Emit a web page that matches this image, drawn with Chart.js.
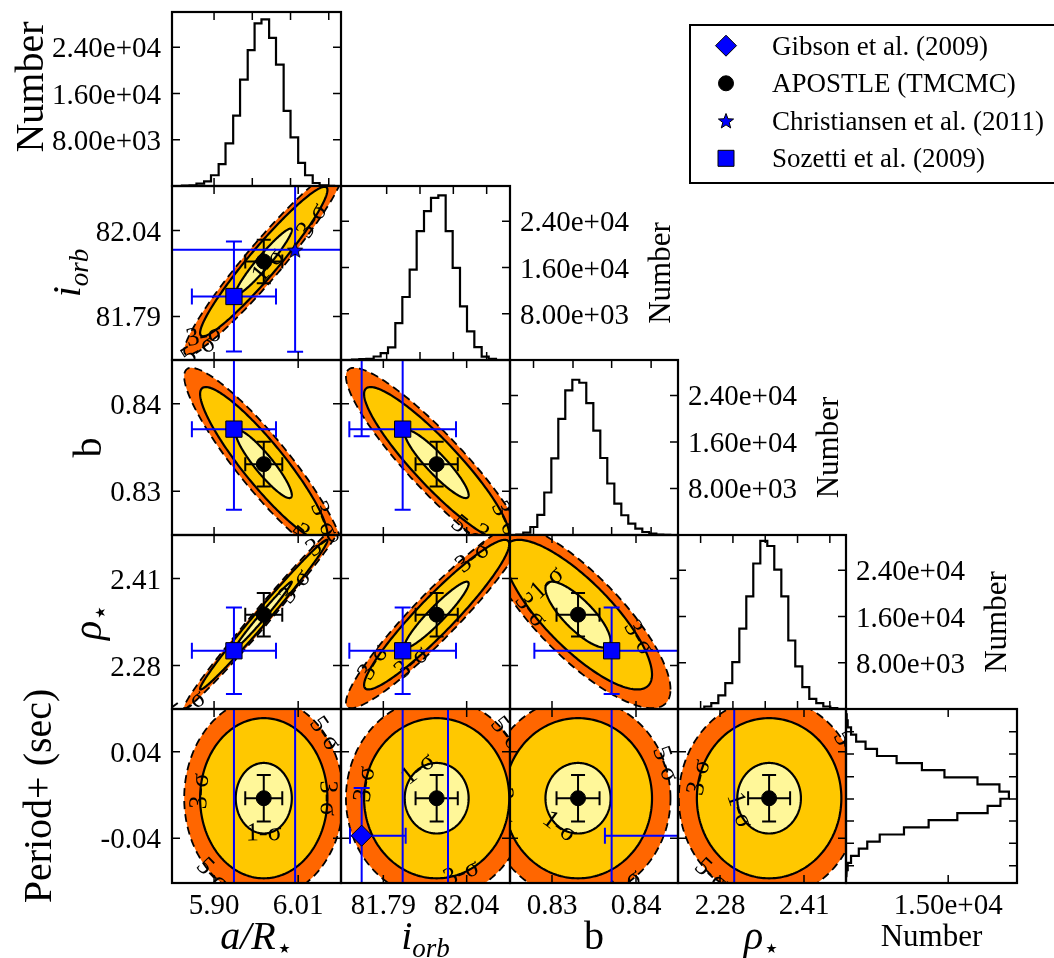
<!DOCTYPE html>
<html>
<head>
<meta charset="utf-8">
<script src="https://cdn.jsdelivr.net/npm/chart.js@4.4.0/dist/chart.umd.min.js"></script>
<style>
  html, body { margin: 0; padding: 0; background: #fff; }
  #wrap { position: relative; width: 1054px; height: 958px; overflow: hidden; background: #fff; }
  #wrap canvas { position: absolute; left: 0; top: 0; }
</style>
</head>
<body>
<div id="wrap"></div>
<script>
// ---------------- values ----------------
// parameter order: a/R*, i_orb, b, rho*, Period+ (sec)
const axisMin = [5.845, 81.663, 0.8250, 2.215, -0.0813];
const axisMax = [6.066, 82.170, 0.8450, 2.475, 0.0794];
const labelTicks = [[5.90, 6.01], [81.79, 82.04], [0.83, 0.84], [2.28, 2.41], [-0.04, 0.04]];
const histTicks = [[5.90, 5.95, 6.00, 6.05], [81.80, 81.90, 82.00, 82.10], [0.8278, 0.8325, 0.8371, 0.8418], [2.25, 2.30, 2.35, 2.40, 2.45]];
const countTicks = [8000, 16000, 24000];
const countMax = 30100;
const periodCountTicks = [15000];
const periodCountMax = 25100;
const periodHistTicks = [0.0584, 0.0378, 0.0169, -0.0037, -0.0240, -0.0446, -0.0653];

// histograms (bin edges, counts)
const aEdges = [5.849, 5.858, 5.868, 5.877, 5.887, 5.896, 5.906, 5.915, 5.925, 5.934, 5.944, 5.953, 5.962, 5.972, 5.981, 5.991, 6.000, 6.010, 6.019, 6.029, 6.038, 6.048, 6.057];
const aCounts = [0, 50, 120, 400, 800, 1860, 3770, 7370, 12180, 18390, 23490, 28130, 28830, 25640, 21000, 12990, 8410, 4000, 1860, 520, 120, 30];
const iEdges = [81.696, 81.718, 81.739, 81.761, 81.782, 81.804, 81.826, 81.847, 81.869, 81.890, 81.912, 81.933, 81.955, 81.977, 81.998, 82.020, 82.041, 82.063, 82.085, 82.106, 82.128];
const iCounts = [80, 150, 200, 607, 1190, 2170, 6390, 10900, 15640, 22280, 25750, 28060, 28470, 22280, 15930, 9280, 4940, 2230, 600, 200];
const bEdges = [0.82575, 0.82658, 0.82742, 0.82825, 0.82908, 0.82992, 0.83075, 0.83158, 0.83242, 0.83325, 0.83408, 0.83492, 0.83575, 0.83658, 0.83742, 0.83825, 0.83908, 0.83992, 0.84075, 0.84158, 0.84242, 0.84325, 0.84408];
const bCounts = [80, 400, 1380, 3450, 7310, 13180, 19970, 24860, 26700, 26190, 22680, 17960, 13240, 8860, 5410, 3400, 1960, 1090, 520, 230, 80, 30];
const rhoEdges = [2.2557, 2.2665, 2.2774, 2.2882, 2.2990, 2.3099, 2.3207, 2.3315, 2.3424, 2.3532, 2.3640, 2.3749, 2.3857, 2.3965, 2.4074, 2.4182, 2.4290, 2.4399, 2.4507, 2.4615];
const rhoCounts = [430, 1010, 2340, 4480, 8120, 13900, 19500, 25170, 29100, 28200, 24100, 19500, 11850, 7360, 3780, 1760, 1010, 430, 145];
const periodEdges = [0.0755, 0.0690, 0.0624, 0.0558, 0.0492, 0.0426, 0.0360, 0.0294, 0.0229, 0.0163, 0.0097, 0.0031, -0.0035, -0.0101, -0.0167, -0.0233, -0.0299, -0.0365, -0.0431, -0.0496, -0.0562, -0.0628, -0.0694, -0.0760];
const periodCounts = [100, 250, 740, 1490, 2870, 4550, 7430, 11140, 14450, 19300, 22520, 23910, 22670, 20790, 16340, 12130, 8510, 4950, 3120, 1880, 740, 250, 100];

// APOSTLE (TMCMC) posterior: mean and 1-sigma, plus pair correlations [row, col, rho]
const apostleMean = [5.965, 81.950, 0.8331, 2.356, -0.003];
const apostleSigma = [0.0242, 0.0633, 0.00256, 0.0325, 0.0215];
const pairCorr = [[1, 0, 0.955], [2, 0, -0.91], [2, 1, -0.91], [3, 0, 0.99], [3, 1, 0.94], [3, 2, -0.80], [4, 0, 0.0], [4, 1, 0.0], [4, 2, 0.0], [4, 3, 0.0]];
const contourNames = ['1-σ', '3-σ', '5-σ'];
const contourRadius = [1.515, 3.44, 4.3];

// literature values (null = not reported)
const gibsonValue = [null, 81.725, 0.8485, null, -0.0376];
const gibsonErrLow = [null, 0.035, 0.0122, null, 0.0441];
const gibsonErrHigh = [null, 0.132, 0.0122, null, 0.0441];
const christiansenValue = [6.006, 81.984, null, null, 0.12];
const christiansenErr = [0.2, 0.297, null, null, 0.25];
const sozettiValue = [5.926, 81.848, 0.8371, 2.302, 0.12];
const sozettiErr = [0.055, 0.16, 0.0092, 0.0646, 0.25];

// ---------------- layout ----------------
const W = 1054, H = 958;
const colX = [172, 341, 510, 678, 846, 1017];
const rowY = [12, 186, 360, 535, 709, 883];
const FONT = '"Liberation Serif", "Times New Roman", serif';
const leftTitleX = [30, 67, 88, 88, 38];
const leftTitleShift = [-12, 0, 0, 0, 0];

// contour label spots per panel: [level index, angle on ellipse (deg)]
const labelSpots = {
  '1,0': [[1, 200], [1, 320], [2, 215], [0, 280]],
  '2,0': [[1, 320], [2, 300], [1, 20]],
  '2,1': [[1, 320], [2, 290], [1, 20]],
  '3,0': [[1, 20], [1, 300], [2, 200]],
  '3,1': [[1, 60], [1, 250], [1, 150]],
  '3,2': [[0, 160], [1, 35], [1, 230]],
  '4,0': [[0, 270], [1, 175], [1, 0], [2, 230], [2, 40]],
  '4,1': [[0, 125], [1, 170], [1, 290], [2, 40]],
  '4,2': [[0, 235], [1, 185], [2, 20], [2, 300]],
  '4,3': [[0, 200], [1, 165], [2, 30], [2, 230]]
};

const titleParts = [
  [{t: 'a/R', it: 1}, {t: '⋆', sub: 1}],
  [{t: 'i', it: 1}, {t: 'orb', it: 1, sub: 1}],
  [{t: 'b'}],
  [{t: 'ρ', it: 1}, {t: '⋆', sub: 1}],
  [{t: 'Period+ (sec)'}]
];

function fmtExp(v) { return v.toExponential(2).replace(/e([+-])(\d)$/, 'e$10$2'); }

function starPath(ctx, x, y, R) {
  ctx.beginPath();
  for (let i = 0; i < 10; i++) {
    const r = i % 2 ? R * 0.42 : R;
    const a = -Math.PI / 2 + i * Math.PI / 5;
    ctx[i ? 'lineTo' : 'moveTo'](x + r * Math.cos(a), y + r * Math.sin(a));
  }
  ctx.closePath();
}

const starImg = document.createElement('canvas');
starImg.width = 18; starImg.height = 18;
(function () {
  const c = starImg.getContext('2d');
  starPath(c, 9, 9.8, 8);
  c.fillStyle = '#0000ff'; c.fill();
  c.lineWidth = 1; c.strokeStyle = '#000'; c.stroke();
})();

const series = [
  {name: 'Gibson et al. (2009)', vals: gibsonValue, lo: gibsonErrLow, hi: gibsonErrHigh, color: '#0000ff', style: 'rectRot', radius: 10.5},
  {name: 'APOSTLE (TMCMC)', vals: apostleMean, lo: apostleSigma, hi: apostleSigma, color: '#000000', style: 'circle', radius: 7.5},
  {name: 'Christiansen et al. (2011)', vals: christiansenValue, lo: christiansenErr, hi: christiansenErr, color: '#0000ff', style: starImg, radius: 7},
  {name: 'Sozetti et al. (2009)', vals: sozettiValue, lo: sozettiErr, hi: sozettiErr, color: '#0000ff', style: 'rect', radius: 11.5}
];

function corrOf(r, c) {
  const p = pairCorr.find(q => q[0] === r && q[1] === c);
  return p ? p[2] : 0;
}

function drawRich(ctx, parts, cx, cy, size, rot) {
  ctx.save();
  ctx.translate(cx, cy);
  if (rot) ctx.rotate(rot);
  const fontOf = p => (p.it ? 'italic ' : '') + Math.round(p.sub ? size * 0.68 : size) + 'px ' + FONT;
  let total = 0;
  parts.forEach(p => { ctx.font = fontOf(p); total += ctx.measureText(p.t).width; });
  let x = -total / 2;
  ctx.textAlign = 'left'; ctx.textBaseline = 'alphabetic'; ctx.fillStyle = '#000';
  parts.forEach(p => {
    ctx.font = fontOf(p);
    ctx.fillText(p.t, x, size * 0.33 + (p.sub ? size * 0.2 : 0));
    x += ctx.measureText(p.t).width;
  });
  ctx.restore();
}

function stepPoints(edges, counts, horizontal) {
  const n = edges.length - 1;
  const pts = [horizontal ? {x: 0, y: edges[0]} : {x: edges[0], y: 0}];
  counts.forEach((v, i) => {
    if (horizontal) pts.push({x: v, y: edges[i]}, {x: v, y: edges[i + 1]});
    else pts.push({x: edges[i], y: v}, {x: edges[i + 1], y: v});
  });
  pts.push(horizontal ? {x: 0, y: edges[n]} : {x: edges[n], y: 0});
  return pts;
}

function ellipsePt(chart, xi, yi, rho, r, t) {
  const k = Math.sqrt(1 - rho * rho);
  return [
    chart.scales.x.getPixelForValue(apostleMean[xi] + r * apostleSigma[xi] * Math.cos(t)),
    chart.scales.y.getPixelForValue(apostleMean[yi] + r * apostleSigma[yi] * (rho * Math.cos(t) + k * Math.sin(t)))
  ];
}

function ellipsePath(ctx, chart, xi, yi, rho, r) {
  ctx.beginPath();
  for (let i = 0; i <= 240; i++) {
    const p = ellipsePt(chart, xi, yi, rho, r, i / 240 * 2 * Math.PI);
    i ? ctx.lineTo(p[0], p[1]) : ctx.moveTo(p[0], p[1]);
  }
  ctx.closePath();
}

function clipArea(ctx, a) {
  ctx.beginPath();
  ctx.rect(a.left, a.top, a.right - a.left, a.bottom - a.top);
  ctx.clip();
}

function drawContours(chart, info) {
  const ctx = chart.ctx, xi = info.c, yi = info.r;
  const rho = corrOf(yi, xi);
  const fills = ['#fff799', '#ffc800', '#ff6600'];
  ctx.save();
  clipArea(ctx, chart.chartArea);
  for (let k = 2; k >= 0; k--) {
    ellipsePath(ctx, chart, xi, yi, rho, contourRadius[k]);
    ctx.fillStyle = fills[k]; ctx.fill();
  }
  for (let k = 2; k >= 0; k--) {
    ellipsePath(ctx, chart, xi, yi, rho, contourRadius[k]);
    ctx.strokeStyle = '#000'; ctx.lineWidth = k === 2 ? 1.8 : 2.2;
    if (k === 2) ctx.setLineDash([8, 5]); else ctx.setLineDash([]);
    ctx.stroke();
  }
  ctx.setLineDash([]);
  ctx.fillStyle = '#000';
  ctx.font = '26px ' + FONT;
  ctx.textAlign = 'center'; ctx.textBaseline = 'middle';
  (labelSpots[yi + ',' + xi] || []).forEach(s => {
    const t = s[1] * Math.PI / 180;
    const p = ellipsePt(chart, xi, yi, rho, contourRadius[s[0]], t);
    const q = ellipsePt(chart, xi, yi, rho, contourRadius[s[0]], t + 0.02);
    let ang = Math.atan2(q[1] - p[1], q[0] - p[0]);
    if (ang > Math.PI / 2) ang -= Math.PI;
    if (ang < -Math.PI / 2) ang += Math.PI;
    ctx.save();
    ctx.translate(p[0], p[1]); ctx.rotate(ang);
    ctx.fillText(contourNames[s[0]], 0, 0);
    ctx.restore();
  });
  ctx.restore();
}

function drawErrorBars(chart) {
  const ctx = chart.ctx, xs = chart.scales.x, ys = chart.scales.y;
  ctx.save();
  clipArea(ctx, chart.chartArea);
  chart.data.datasets.forEach(ds => {
    const b = ds.bars;
    if (!b) return;
    const X = xs.getPixelForValue(b.x), Y = ys.getPixelForValue(b.y);
    const cap = b.cap;
    ctx.strokeStyle = b.color; ctx.lineWidth = 2;
    ctx.beginPath();
    if (b.xLo != null) {
      const x0 = xs.getPixelForValue(b.x - b.xLo), x1 = xs.getPixelForValue(b.x + b.xHi);
      ctx.moveTo(x0, Y); ctx.lineTo(x1, Y);
      ctx.moveTo(x0, Y - cap); ctx.lineTo(x0, Y + cap);
      ctx.moveTo(x1, Y - cap); ctx.lineTo(x1, Y + cap);
    }
    if (b.yLo != null) {
      const y0 = ys.getPixelForValue(b.y - b.yLo), y1 = ys.getPixelForValue(b.y + b.yHi);
      ctx.moveTo(X, y0); ctx.lineTo(X, y1);
      ctx.moveTo(X - cap, y0); ctx.lineTo(X + cap, y0);
      ctx.moveTo(X - cap, y1); ctx.lineTo(X + cap, y1);
    }
    ctx.stroke();
  });
  ctx.restore();
}

function drawFrame(chart, info) {
  const ctx = chart.ctx, a = chart.chartArea, xs = chart.scales.x, ys = chart.scales.y;
  const TL = 8;
  ctx.save();
  ctx.strokeStyle = '#000';
  ctx.lineWidth = 1.5;
  ctx.beginPath();
  info.xTicks.forEach(v => {
    const x = xs.getPixelForValue(v);
    ctx.moveTo(x, a.bottom); ctx.lineTo(x, a.bottom - TL);
    ctx.moveTo(x, a.top); ctx.lineTo(x, a.top + TL);
  });
  info.yTicks.forEach(v => {
    const y = ys.getPixelForValue(v);
    ctx.moveTo(a.left, y); ctx.lineTo(a.left + TL, y);
    ctx.moveTo(a.right, y); ctx.lineTo(a.right - TL, y);
  });
  ctx.stroke();
  ctx.lineWidth = 2.2;
  ctx.strokeRect(a.left, a.top, a.right - a.left, a.bottom - a.top);

  ctx.fillStyle = '#000';
  ctx.font = '29px ' + FONT;
  ctx.textBaseline = 'alphabetic';
  if (info.xLabels) {
    ctx.textAlign = 'center';
    info.xLabels.forEach(([v, s]) => ctx.fillText(s, xs.getPixelForValue(v), 914));
  }
  if (info.yLabels) {
    ctx.textAlign = info.yLabelSide === 'left' ? 'right' : 'left';
    const lx = info.yLabelSide === 'left' ? a.left - 11 : a.right + 10;
    info.yLabels.forEach(([v, s]) => ctx.fillText(s, lx, ys.getPixelForValue(v) + 10));
  }
  const cx = (a.left + a.right) / 2, cy = (a.top + a.bottom) / 2;
  if (info.leftTitle) drawRich(ctx, info.leftTitle, leftTitleX[info.r], cy + leftTitleShift[info.r], 40, -Math.PI / 2);
  if (info.bottomTitle) drawRich(ctx, info.bottomTitle, cx, 936, info.r === info.c ? 31 : 40, 0);
  if (info.rightTitle) drawRich(ctx, info.rightTitle, a.right + 150, cy, 31, -Math.PI / 2);
  ctx.restore();
}

function drawLegend(chart) {
  const ctx = chart.ctx;
  ctx.save();
  ctx.fillStyle = '#fff';
  ctx.fillRect(690, 25, 380, 158);
  ctx.strokeStyle = '#000'; ctx.lineWidth = 2;
  ctx.strokeRect(690, 25, 380, 158);
  const ys = [45.7, 83.3, 120.7, 158.3];
  ctx.font = '27px ' + FONT;
  ctx.textAlign = 'left'; ctx.textBaseline = 'alphabetic';
  series.forEach((s, i) => {
    const x = 726, y = ys[i];
    ctx.fillStyle = s.color; ctx.strokeStyle = '#000'; ctx.lineWidth = 1;
    ctx.beginPath();
    if (s.style === 'rectRot') {
      ctx.moveTo(x, y - 10.5); ctx.lineTo(x + 10.5, y); ctx.lineTo(x, y + 10.5); ctx.lineTo(x - 10.5, y); ctx.closePath();
    } else if (s.style === 'circle') {
      ctx.arc(x, y, 7.5, 0, Math.PI * 2);
    } else if (s.style === 'rect') {
      ctx.rect(x - 8, y - 8, 16, 16);
    } else {
      starPath(ctx, x, y + 0.8, 8);
    }
    ctx.fill(); ctx.stroke();
    ctx.fillStyle = '#000';
    ctx.fillText(s.name, 772, y + 9);
  });
  ctx.restore();
}

// ---------------- build the panels ----------------
const wrap = document.getElementById('wrap');
const histEdges = [aEdges, iEdges, bEdges, rhoEdges, periodEdges];
const histCounts = [aCounts, iCounts, bCounts, rhoCounts, periodCounts];

function makePanel(r, c) {
  const info = {r, c};
  let xMin, xMax, yMin, yMax, datasets = [];
  if (r === c) {
    const horizontal = r === 4;
    datasets.push({
      data: stepPoints(histEdges[r], histCounts[r], horizontal),
      showLine: true, pointRadius: 0, borderColor: '#000', borderWidth: 2.2, fill: false, clip: 0
    });
    if (horizontal) {
      xMin = 0; xMax = periodCountMax; yMin = axisMin[4]; yMax = axisMax[4];
      info.xTicks = periodCountTicks; info.yTicks = periodHistTicks;
      info.xLabels = periodCountTicks.map(v => [v, fmtExp(v)]);
      info.bottomTitle = [{t: 'Number'}];
    } else {
      xMin = axisMin[c]; xMax = axisMax[c]; yMin = 0; yMax = countMax;
      info.xTicks = histTicks[c]; info.yTicks = countTicks;
      info.yLabels = countTicks.map(v => [v, fmtExp(v)]);
      if (r === 0) { info.yLabelSide = 'left'; info.leftTitle = [{t: 'Number'}]; }
      else { info.yLabelSide = 'right'; info.rightTitle = [{t: 'Number'}]; }
    }
  } else {
    info.kind = '2d';
    xMin = axisMin[c]; xMax = axisMax[c]; yMin = axisMin[r]; yMax = axisMax[r];
    info.xTicks = labelTicks[c]; info.yTicks = labelTicks[r];
    if (r === 4) { info.xLabels = labelTicks[c].map(v => [v, v.toFixed(2)]); info.bottomTitle = titleParts[c]; }
    if (c === 0) { info.yLabels = labelTicks[r].map(v => [v, v.toFixed(2)]); info.yLabelSide = 'left'; info.leftTitle = titleParts[r]; }
    series.forEach((s, i) => {
      const xv = s.vals[c], yv = s.vals[r];
      if (xv == null || yv == null) return;
      datasets.push({
        label: s.name,
        data: [{x: xv, y: yv}],
        pointStyle: s.style, pointRadius: s.radius, pointHoverRadius: s.radius,
        backgroundColor: s.color, borderColor: '#000', borderWidth: 1,
        clip: 0, order: i === 1 ? 5 : 4 - i,
        bars: {x: xv, y: yv, xLo: s.lo[c], xHi: s.hi[c], yLo: s.lo[r], yHi: s.hi[r], color: s.color, cap: i === 1 ? 7 : 8}
      });
    });
  }
  const cv = document.createElement('canvas');
  cv.width = W; cv.height = H;
  cv.style.width = W + 'px'; cv.style.height = H + 'px';
  wrap.appendChild(cv);
  const plugins = [{
    id: 'panel',
    beforeDatasetsDraw(chart) {
      if (info.kind === '2d') { drawContours(chart, info); drawErrorBars(chart); }
    },
    afterDraw(chart) {
      drawFrame(chart, info);
      if (r === 0 && c === 0) drawLegend(chart);
    }
  }];
  return new Chart(cv, {
    type: 'scatter',
    data: {datasets},
    options: {
      responsive: false, animation: false, events: [],
      layout: {autoPadding: false, padding: {left: colX[c], right: W - colX[c + 1], top: rowY[r], bottom: H - rowY[r + 1]}},
      scales: {
        x: {type: 'linear', display: false, min: xMin, max: xMax},
        y: {type: 'linear', display: false, min: yMin, max: yMax}
      },
      plugins: {legend: {display: false}, tooltip: {enabled: false}}
    },
    plugins
  });
}

for (let r = 0; r < 5; r++) {
  for (let c = 0; c <= r; c++) makePanel(r, c);
}
</script>
</body>
</html>
